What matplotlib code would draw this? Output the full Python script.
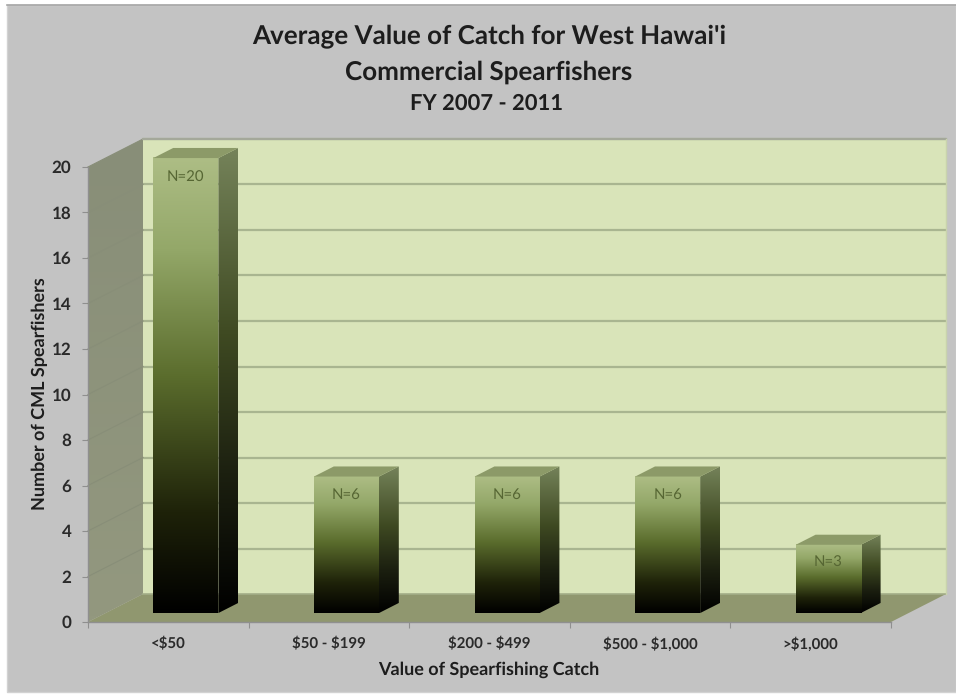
import numpy as np
import matplotlib
matplotlib.use("Agg")
import matplotlib.pyplot as plt
from matplotlib.colors import LinearSegmentedColormap
from matplotlib.patches import Polygon, Rectangle

# ---- data ----
categories = ["<$50", "$50 - $199", "$200 - $499", "$500 - $1,000", ">$1,000"]
counts = [20, 6, 6, 6, 3]
bar_labels = ["N=20", "N=6", "N=6", "N=6", "N=3"]
y_ticks = list(range(0, 21, 2))
title_lines = ["Average Value of Catch for West Hawai'i", "Commercial Spearfishers", "FY 2007 - 2011"]
x_title = "Value of Spearfishing Catch"
y_title = "Number of CML Spearfishers"

# ---- layout (pixels) ----
W, H = 956, 698
X0, X1 = 88, 891          # front axis ends
Y0, Y20 = 622, 167        # front axis value 0 and value 20
px_x = (X1 - X0) / len(categories)
px_y = (Y0 - Y20) / 20
DX = 55 / px_x            # full depth in data units
DY = 28 / px_y
BAR_W = 65 / px_x
BAR_OFF = 0.5 - BAR_W / 2
D_FRONT, D_BACK = 0.32, 0.68

plt.rcParams["font.family"] = ["Lato", "DejaVu Sans"]
plt.rcParams["text.hinting"] = "no_hinting"
plt.rcParams["text.hinting_factor"] = 1
fig = plt.figure(figsize=(W / 100, H / 100), dpi=100, facecolor="white")
ax = fig.add_axes([0, 0, 1, 1], facecolor="none")
ax.set_xlim(-X0 / px_x, (W - X0) / px_x)
ax.set_ylim(-(H - Y0) / px_y, Y0 / px_y)

fig.add_artist(Rectangle((7 / W, 1 - 692 / H), (W - 7) / W, (692 - 5) / H,
                         transform=fig.transFigure, fc="#c3c3c3", ec="#d2d2d2", lw=1, zorder=-5))
fig.add_artist(plt.Line2D([7 / W, 1], [1 - 5 / H, 1 - 5 / H], color="#a5a5a5", lw=1.2, zorder=-4))

n = len(categories)
ax.add_patch(Polygon([(DX, DY), (n + DX, DY), (n + DX, 20 + DY), (DX, 20 + DY)], fc="#d9e4b9", ec="none", zorder=1))
side_clip = Polygon([(0, 0), (DX, DY), (DX, 20 + DY), (0, 20)], transform=ax.transData, fc="none", ec="none")
side_cm_wall = LinearSegmentedColormap.from_list("w", ["#93987f", "#888e78"])
wall_im = ax.imshow(np.linspace(0, 1, 64).reshape(-1, 1), cmap=side_cm_wall, origin="lower", aspect="auto",
                    zorder=1, extent=(0, DX, 0, 20 + DY), interpolation="bilinear")
wall_im.set_clip_path(side_clip)
ax.add_patch(Polygon([(0, 0), (n, 0), (n + DX, DY), (DX, DY)], fc="#90976f", ec="none", zorder=1))

for v in y_ticks[1:]:
    ax.plot([DX, n + DX], [v + DY, v + DY], color="#a9b590", lw=1.6, zorder=2, solid_capstyle="butt")
    ax.plot([0, DX], [v, v + DY], color="#888e78", lw=0.8, zorder=2)
ax.plot([DX, n + DX], [20 + DY, 20 + DY], color="#a4a89a", lw=1.6, zorder=2)
ax.plot([DX, n + DX], [DY, DY], color="#a3ad88", lw=1.2, zorder=2)
ax.plot([n + DX, n + DX], [DY, 20 + DY], color="#c9d3ad", lw=1, zorder=2)


def grad(stops):
    return LinearSegmentedColormap.from_list("g", stops)


front_cm = grad([(0, "#000000"), (0.22, "#1e2209"), (0.52, "#5b6d2d"), (0.8, "#94a869"), (1, "#adbd85")])
side_cm = grad([(0, "#000000"), (0.3, "#1c2010"), (0.6, "#3f4a22"), (1, "#75835a")])
ramp = np.linspace(0, 1, 256).reshape(-1, 1)

for i, (v, lab) in enumerate(zip(counts, bar_labels)):
    l = i + BAR_OFF
    r = l + BAR_W
    fx, fy = D_FRONT * DX, D_FRONT * DY
    bx, by = D_BACK * DX, D_BACK * DY
    # front face
    ax.imshow(ramp, cmap=front_cm, origin="lower", aspect="auto", zorder=5,
              extent=(l + fx, r + fx, fy, v + fy), interpolation="bilinear")
    # side face
    poly = Polygon([(r + fx, fy), (r + bx, by), (r + bx, v + by), (r + fx, v + fy)],
                   transform=ax.transData, fc="none", ec="none")
    im = ax.imshow(ramp, cmap=side_cm, origin="lower", aspect="auto", zorder=4,
                   extent=(r + fx, r + bx, fy, v + by), interpolation="bilinear")
    im.set_clip_path(poly)
    # top face
    ax.add_patch(Polygon([(l + fx, v + fy), (l + bx, v + by), (r + bx, v + by), (r + fx, v + fy)],
                         fc="#8c9a68", ec="none", zorder=5))
    ax.text(l + fx + BAR_W / 2, v + fy - 0.8, lab, ha="center", va="center", fontsize=10.5,
            color="#566633", zorder=6, parse_math=False)

ax.set_xlim(-X0 / px_x, (W - X0) / px_x)
ax.set_ylim(-(H - Y0) / px_y, Y0 / px_y)

for s in ("top", "right"):
    ax.spines[s].set_visible(False)
for s in ("left", "bottom"):
    ax.spines[s].set_position(("data", 0))
    ax.spines[s].set_color("#8f8f8f")
    ax.spines[s].set_linewidth(1)
ax.spines["left"].set_bounds(0, 20)
ax.spines["bottom"].set_bounds(0, n)
ax.set_yticks(y_ticks)
ax.set_yticklabels([str(t) for t in y_ticks], fontsize=12, color="#2a2a2a", fontweight="bold")
ax.set_xticks(range(n + 1))
ax.set_xticklabels([""] * (n + 1))
ax.set_xticks(np.arange(n) + 0.5, minor=True)
xlabs = ax.set_xticklabels(categories, minor=True, fontsize=11, color="#2a2a2a", fontweight="bold")
for t in xlabs:
    t.set_parse_math(False)
ax.tick_params(axis="x", which="minor", length=0, pad=11)
ax.tick_params(axis="x", which="major", length=4, color="#8f8f8f")
ax.tick_params(axis="y", which="major", length=4, color="#8f8f8f", pad=8)

for line, x, y, fs in zip(title_lines, [489, 489, 487], [37, 72, 103], [18.5, 19, 15.7]):
    fig.text(x / W, 1 - y / H, line, ha="center", va="center", fontsize=fs, fontweight="bold", color="#1d1d1d")
fig.text(489 / W, 1 - 670 / H, x_title, ha="center", va="center", fontsize=13, fontweight="bold", color="#1d1d1d")
fig.text(40 / W, 1 - 394 / H, y_title, ha="center", va="center", rotation=90, fontsize=13, fontweight="bold", color="#1d1d1d")

fig.savefig("out.png", dpi=100, facecolor="white")
